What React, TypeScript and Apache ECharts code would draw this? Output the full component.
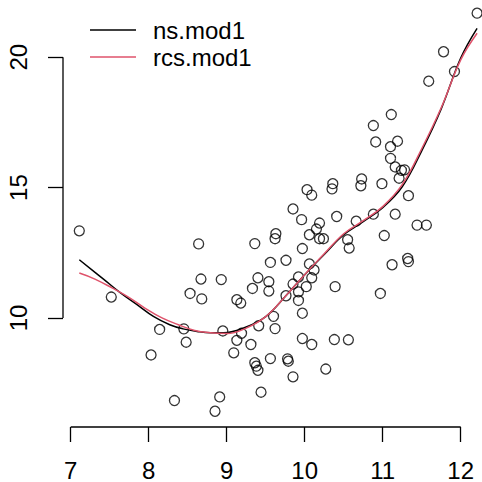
import React, { useEffect, useRef } from "react";
import * as echarts from "echarts";

// Scatter points (x, y)
const pointX = [
  7.11, 7.52, 8.03, 8.14, 8.33, 8.45, 8.48, 8.53, 8.64, 8.67,
  8.68, 8.85, 8.91, 8.95, 8.93, 9.09, 9.13, 9.13, 9.18, 9.19,
  9.31, 9.33, 9.36, 9.40, 9.41, 9.36, 9.38, 9.40, 9.44, 9.54,
  9.54, 9.56, 9.60, 9.62, 9.56, 9.63, 9.62, 9.76, 9.76, 9.78,
  9.79, 9.85, 9.85, 9.85, 9.92, 9.92, 9.92, 9.96, 9.97, 9.97,
  9.97, 10.03, 10.09, 10.02, 10.06, 10.06, 10.09, 10.12, 10.09, 10.19,
  10.15, 10.19, 10.24, 10.27, 10.36, 10.35, 10.41, 10.39, 10.38, 10.56,
  10.55, 10.57, 10.66, 10.73, 10.72, 10.88, 10.88, 10.91, 10.99, 10.97,
  11.02, 11.11, 11.10, 11.10, 11.12, 11.16, 11.16, 11.19, 11.21, 11.24,
  11.28, 11.33, 11.32, 11.33, 11.44, 11.56, 11.59, 11.78, 11.92, 12.21,
];
const pointY = [
  13.34, 10.80, 8.58, 9.56, 6.83, 9.58, 9.07, 10.94, 12.84, 11.49,
  10.73, 6.42, 6.97, 9.50, 11.47, 8.66, 9.14, 10.70, 10.57, 9.41,
  8.98, 11.13, 12.85, 11.54, 9.70, 8.28, 8.15, 7.99, 7.15, 11.39,
  11.03, 12.13, 10.06, 9.59, 8.44, 13.23, 13.04, 12.21, 10.85, 8.43,
  8.34, 14.18, 11.30, 7.74, 11.57, 11.00, 10.67, 13.77, 12.66, 10.18,
  9.21, 14.92, 14.71, 11.20, 13.19, 12.07, 11.54, 11.84, 8.98, 13.64,
  13.41, 13.04, 13.04, 8.04, 15.15, 14.95, 13.89, 11.20, 9.17, 9.16,
  13.00, 12.68, 13.71, 15.33, 15.07, 13.98, 17.38, 16.75, 15.15, 10.94,
  13.16, 17.80, 16.57, 16.12, 12.04, 15.79, 13.98, 16.78, 15.36, 15.66,
  15.68, 14.69, 12.28, 12.16, 13.56, 13.56, 19.08, 20.21, 19.45, 21.69,
];

// Fitted curves
const nsX = [7.11, 7.42, 7.63, 7.85, 8.06, 8.27, 8.44, 8.62, 8.79, 8.96, 9.25, 9.5, 9.75, 10.0, 10.25, 10.5, 10.75, 11.0, 11.25, 11.5, 11.75, 12.0, 12.21];
const nsY = [12.23, 11.49, 10.98, 10.51, 10.06, 9.74, 9.58, 9.48, 9.43, 9.43, 9.65, 10.05, 10.82, 11.66, 12.43, 13.19, 13.69, 14.23, 15.03, 16.41, 18.02, 19.97, 21.11];
const rcsX = [7.11, 7.31, 7.53, 7.74, 7.95, 8.17, 8.38, 8.59, 8.79, 9.0, 9.25, 9.5, 9.75, 10.0, 10.25, 10.5, 10.75, 11.0, 11.25, 11.5, 11.75, 12.0, 12.21];
const rcsY = [11.72, 11.49, 11.15, 10.80, 10.38, 10.0, 9.74, 9.52, 9.43, 9.40, 9.61, 10.05, 10.82, 11.66, 12.46, 13.23, 13.73, 14.27, 15.11, 16.49, 18.06, 19.90, 20.92];

const seriesNames = ["ns.mod1", "rcs.mod1"];
const xTicks = [7, 8, 9, 10, 11, 12];
const yTicks = [10, 15, 20];

// Axis ranges (R style 4% padding)
const X_MIN = 6.901;
const X_MAX = 12.273;
const Y_MIN = 5.816;
const Y_MAX = 22.195;

const FONT = "'Liberation Sans', Arial, Helvetica, sans-serif";

export default function App() {
  const ref = useRef<HTMLDivElement>(null);

  useEffect(() => {
    if (!ref.current) return;
    const chart = echarts.init(ref.current, null, { renderer: "svg" });
    const axisLineStyle = { color: "#000", width: 1.3 };
    chart.setOption({
      animation: false,
      backgroundColor: "#fff",
      textStyle: { fontFamily: FONT },
      grid: { left: 63, right: 0, top: 0, bottom: 54.5, containLabel: false },
      legend: {
        data: seriesNames,
        orient: "vertical",
        left: 85,
        top: 13,
        icon: "path://M0,0 L46,0 L46,1.5 L0,1.5 Z",
        itemWidth: 46,
        itemHeight: 24,
        itemGap: 3,
        textStyle: { fontSize: 24, color: "#000", fontFamily: FONT, padding: [0, 0, 0, 12] },
      },
      xAxis: {
        type: "value",
        min: X_MIN,
        max: X_MAX,
        splitLine: { show: false },
        axisLine: { show: false },
        axisTick: { show: true, customValues: xTicks, length: 15, lineStyle: axisLineStyle },
        axisLabel: {
          customValues: xTicks,
          fontSize: 24,
          color: "#000",
          fontFamily: FONT,
          margin: 31,
        },
      },
      yAxis: {
        type: "value",
        min: Y_MIN,
        max: Y_MAX,
        splitLine: { show: false },
        axisLine: { show: false },
        axisTick: { show: true, customValues: yTicks, length: 15, lineStyle: axisLineStyle },
        axisLabel: {
          customValues: yTicks,
          rotate: 90,
          fontSize: 24,
          color: "#000",
          fontFamily: FONT,
          margin: 33,
        },
      },
      series: [
        {
          type: "scatter",
          name: "points",
          data: pointX.map((x, i) => [x, pointY[i]]),
          symbol: "circle",
          symbolSize: 10,
          itemStyle: { color: "transparent", borderColor: "#000", borderWidth: 1.3 },
          silent: true,
        },
        {
          type: "line",
          name: seriesNames[0],
          data: nsX.map((x, i) => [x, nsY[i]]),
          symbol: "none",
          smooth: 0.4,
          lineStyle: { color: "#000000", width: 1.5 },
          itemStyle: { color: "#000000" },
          clip: false,
        },
        {
          type: "line",
          name: seriesNames[1],
          data: rcsX.map((x, i) => [x, rcsY[i]]),
          symbol: "none",
          smooth: 0.4,
          lineStyle: { color: "#DF536B", width: 1.5 },
          itemStyle: { color: "#DF536B" },
          clip: false,
        },
        {
          type: "line",
          name: "x-axis",
          data: [[xTicks[0], Y_MIN], [xTicks[xTicks.length - 1], Y_MIN]],
          symbol: "none",
          lineStyle: axisLineStyle,
          clip: false,
          silent: true,
        },
        {
          type: "line",
          name: "y-axis",
          data: [[X_MIN, yTicks[0]], [X_MIN, yTicks[yTicks.length - 1]]],
          symbol: "none",
          lineStyle: axisLineStyle,
          clip: false,
          silent: true,
        },
      ],
    });
    return () => chart.dispose();
  }, []);

  return (
    <div
      ref={ref}
      style={{ position: "fixed", left: 0, top: 0, width: 482, height: 482 }}
    />
  );
}
